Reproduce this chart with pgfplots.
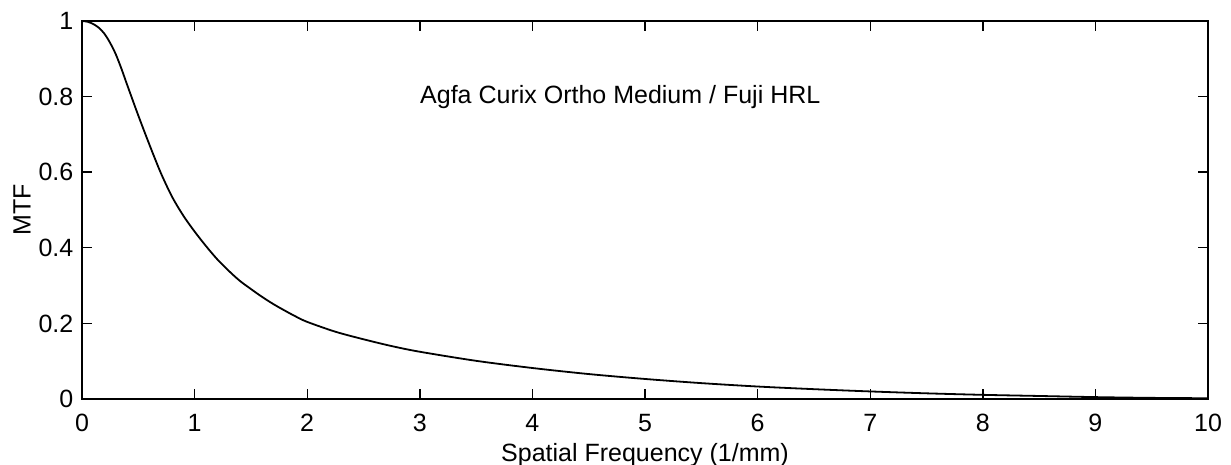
\documentclass[border=0pt]{standalone}
\usepackage{fontspec}
\setmainfont{Liberation Sans}
\usepackage{pgfplots}
\pgfplotsset{compat=1.18}
\begin{document}
\fontsize{12.5}{15}\selectfont
\begin{tikzpicture}
\begin{axis}[
  scale only axis,
  width=563pt, height=189pt,
  xmin=0, xmax=10, ymin=0, ymax=1,
  xtick={0,1,...,10},
  ytick={0,0.2,0.4,0.6,0.8,1},
  yticklabels={0,0.2,0.4,0.6,0.8,1},
  tick align=inside,
  major tick length=5pt,
  tick style={line width=0.7pt, black},
  axis line style={line width=0.8pt},
  /pgf/number format/assume math mode=true,
  tick label style={font=\fontsize{12.5}{15}\selectfont},
  xticklabel style={yshift=-3.3pt},
  xlabel={Spatial Frequency (1/mm)},
  ylabel={MTF},
  label style={font=\fontsize{12.5}{15}\selectfont},
  xlabel style={at={(axis description cs:0.5,-0.148)}, anchor=center},
  ylabel style={at={(axis description cs:-0.0533,0.5)}, anchor=center},
  clip=false,
]
\addplot[black, line width=0.9pt, smooth] coordinates {
(0,1.000) (0.05,0.998) (0.1,0.992) (0.15,0.982) (0.2,0.966) (0.25,0.942)
(0.3,0.912) (0.35,0.874) (0.4,0.832) (0.5,0.750)
(0.6,0.672) (0.7,0.598) (0.8,0.535) (0.9,0.485) (1.0,0.443) (1.1,0.405)
(1.2,0.370) (1.3,0.340) (1.4,0.313) (1.5,0.291) (1.6,0.270) (1.7,0.251)
(1.8,0.234) (1.9,0.218) (2.0,0.204) (2.25,0.178) (2.5,0.158)
(2.75,0.140) (3.0,0.125) (3.5,0.101) (4.0,0.082) (4.5,0.066) (5.0,0.053)
(5.5,0.042) (6.0,0.033) (6.5,0.026) (7.0,0.020) (7.5,0.015) (8.0,0.011)
(8.5,0.008) (9.0,0.005) (9.5,0.003) (10,0.002)
};
\node[anchor=west, inner sep=0pt, font=\fontsize{12.5}{15}\selectfont] at (axis cs:3.0,0.8) {Agfa Curix Ortho Medium / Fuji HRL};
\end{axis}
\pgfresetboundingbox
\path[use as bounding box] (current axis.south west) ++(-41pt,-33pt) rectangle ([xshift=11.5pt,yshift=10.5pt]current axis.north east);
\end{tikzpicture}
\end{document}
